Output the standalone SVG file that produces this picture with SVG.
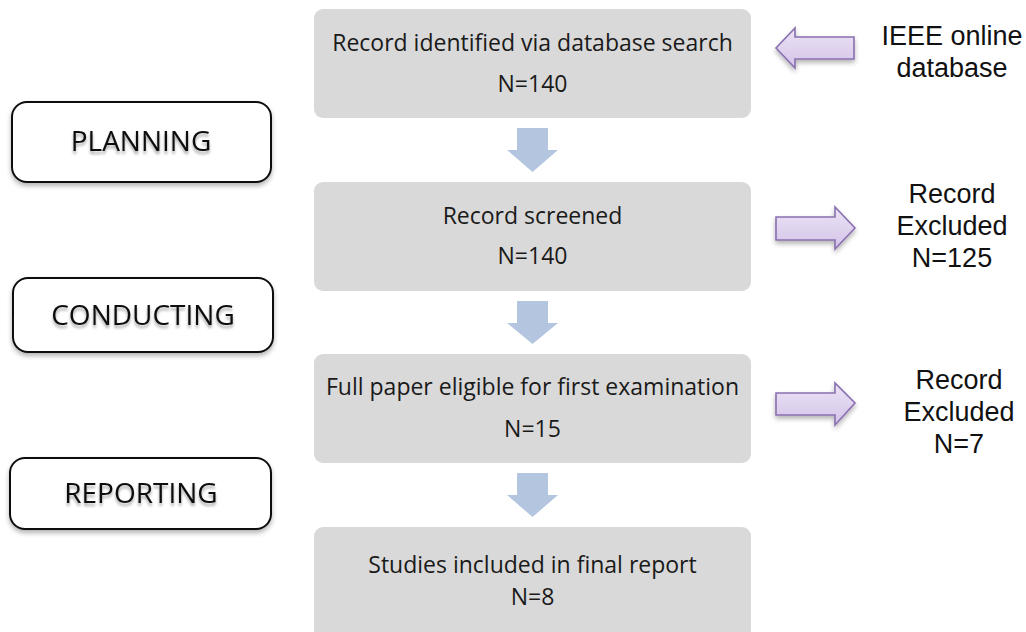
<svg xmlns="http://www.w3.org/2000/svg" width="1026" height="632" viewBox="0 0 1026 632">
  <defs>
    <style>
      .step { fill: #d9d9d9; }
      .step-text { font-family: "Open Sans", "Noto Sans", sans-serif; font-size: 23px; fill: #1a1a1a; text-anchor: middle; }
      .phase { fill: #ffffff; stroke: #111111; stroke-width: 2; filter: url(#softShadow); }
      .phase-text { font-family: "Open Sans", "Noto Sans", sans-serif; font-size: 28px; fill: #111111; text-anchor: middle; filter: url(#textShadow); }
      .down { fill: #b4c5e0; }
      .side { fill: url(#lavender); stroke: #8a6fb0; stroke-width: 1.6; stroke-linejoin: miter; filter: url(#softShadow); }
      .side-text { font-family: "Liberation Sans", Arial, sans-serif; font-size: 27px; fill: #111111; text-anchor: middle; }
    </style>
    <linearGradient id="lavender" x1="0" y1="0" x2="0" y2="1">
      <stop offset="0" stop-color="#ece4f5"/>
      <stop offset="1" stop-color="#d3c3e8"/>
    </linearGradient>
    <filter id="softShadow" x="-10%" y="-20%" width="120%" height="150%">
      <feGaussianBlur in="SourceAlpha" stdDeviation="2.5"/>
      <feOffset dx="0" dy="3" result="blur"/>
      <feComponentTransfer><feFuncA type="linear" slope="0.3"/></feComponentTransfer>
      <feMerge><feMergeNode/><feMergeNode in="SourceGraphic"/></feMerge>
    </filter>
    <filter id="textShadow" x="-10%" y="-30%" width="120%" height="170%">
      <feGaussianBlur in="SourceAlpha" stdDeviation="1.8"/>
      <feOffset dx="0" dy="3"/>
      <feComponentTransfer><feFuncA type="linear" slope="0.35"/></feComponentTransfer>
      <feMerge><feMergeNode/><feMergeNode in="SourceGraphic"/></feMerge>
    </filter>
  </defs>

  <rect width="1026" height="632" fill="#ffffff"/>

  <!-- PRISMA-style flow steps -->
  <g id="step-identified">
    <rect class="step" x="314" y="9" width="437" height="109" rx="9"/>
    <text class="step-text" x="532.5" y="51">Record identified via database search</text>
    <text class="step-text" x="532.5" y="92">N=140</text>
  </g>
  <g id="step-screened">
    <rect class="step" x="314" y="182" width="437" height="109" rx="9"/>
    <text class="step-text" x="532.5" y="224">Record screened</text>
    <text class="step-text" x="532.5" y="264">N=140</text>
  </g>
  <g id="step-eligible">
    <rect class="step" x="314" y="354" width="437" height="109" rx="9"/>
    <text class="step-text" x="532.5" y="395">Full paper eligible for first examination</text>
    <text class="step-text" x="532.5" y="437">N=15</text>
  </g>
  <g id="step-included">
    <rect class="step" x="314" y="527" width="437" height="120" rx="9"/>
    <text class="step-text" x="532.5" y="573">Studies included in final report</text>
    <text class="step-text" x="532.5" y="605">N=8</text>
  </g>

  <!-- Review phases -->
  <g id="phase-planning">
    <rect class="phase" x="12" y="102" width="259" height="80" rx="15"/>
    <text class="phase-text" x="141" y="151">PLANNING</text>
  </g>
  <g id="phase-conducting">
    <rect class="phase" x="13" y="278" width="260" height="74" rx="15"/>
    <text class="phase-text" x="143" y="325">CONDUCTING</text>
  </g>
  <g id="phase-reporting">
    <rect class="phase" x="10" y="458" width="261" height="71" rx="15"/>
    <text class="phase-text" x="141" y="503">REPORTING</text>
  </g>

  <!-- Side notes -->
  <g id="note-source">
    <text class="side-text" x="952" y="45">IEEE online</text>
    <text class="side-text" x="952" y="77">database</text>
  </g>
  <g id="note-excluded-1">
    <text class="side-text" x="952" y="203">Record</text>
    <text class="side-text" x="952" y="235">Excluded</text>
    <text class="side-text" x="952" y="267">N=125</text>
  </g>
  <g id="note-excluded-2">
    <text class="side-text" x="959" y="389">Record</text>
    <text class="side-text" x="959" y="421">Excluded</text>
    <text class="side-text" x="959" y="453">N=7</text>
  </g>

  <!-- Connectors -->
  <g id="connectors">
    <polygon class="down" points="517,128 548,128 548,150 558,150 532.5,172 507,150 517,150"/>
    <polygon class="down" points="517,301 548,301 548,323 558,323 532.5,344 507,323 517,323"/>
    <polygon class="down" points="517,473 548,473 548,495 558,495 532.5,517 507,495 517,495"/>

    <polygon class="side" points="776,48 795,28 795,37 854,37 854,59 795,59 795,68"/>
    <polygon class="side" points="776,217 835,217 835,207 855,228 835,249 835,240 776,240"/>
    <polygon class="side" points="776,393 835,393 835,383 855,403 835,425 835,415 776,415"/>
  </g>
</svg>
